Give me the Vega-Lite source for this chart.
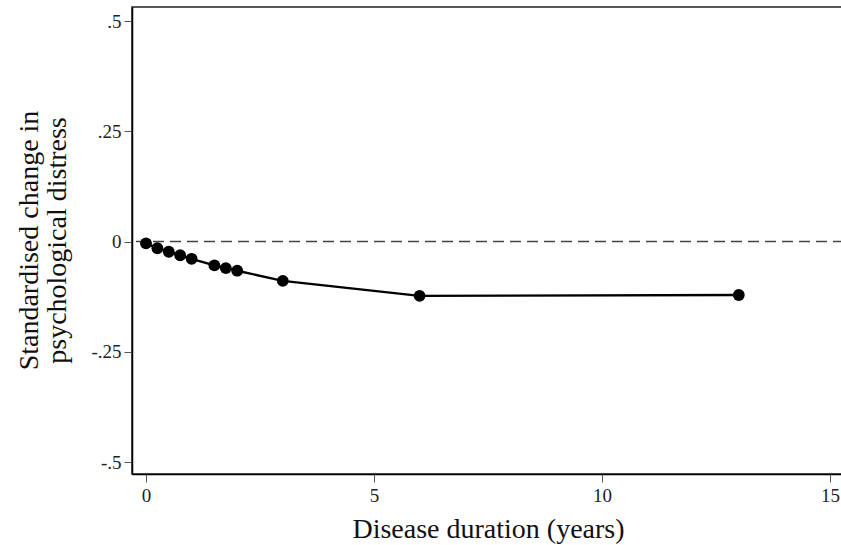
{
  "$schema": "https://vega.github.io/schema/vega-lite/v6.json",
  "width": 712,
  "height": 467,
  "autosize": "none",
  "padding": {"left": 132, "top": 7, "right": 0, "bottom": 71},
  "background": "white",
  "config": {
    "view": {"stroke": "#222", "strokeWidth": 1.5},
    "font": "Liberation Serif",
    "axis": {
      "grid": false,
      "domainColor": "#000",
      "domainWidth": 1.5,
      "tickColor": "#555",
      "tickSize": 8,
      "tickWidth": 1,
      "labelFont": "Liberation Serif",
      "labelFontSize": 19,
      "labelColor": "#222",
      "titleFont": "Liberation Serif",
      "titleFontSize": 28,
      "titleFontWeight": "normal",
      "titleColor": "#111"
    }
  },
  "datasets": {
    "pts": [
      {"years": 0, "change": -0.004},
      {"years": 0.25, "change": -0.015},
      {"years": 0.5, "change": -0.023},
      {"years": 0.75, "change": -0.031},
      {"years": 1, "change": -0.039},
      {"years": 1.5, "change": -0.054},
      {"years": 1.75, "change": -0.060},
      {"years": 2, "change": -0.066},
      {"years": 3, "change": -0.089},
      {"years": 6, "change": -0.123},
      {"years": 13, "change": -0.121}
    ],
    "ref": [{"y": 0}]
  },
  "layer": [
    {
      "data": {"name": "ref"},
      "mark": {"type": "rule", "color": "#444", "strokeWidth": 1.5, "strokeDash": [11, 6]},
      "encoding": {"y": {"field": "y", "type": "quantitative", "scale": {"domain": [-0.527, 0.532]}}}
    },
    {
      "data": {"name": "pts"},
      "mark": {"type": "line", "color": "#000", "strokeWidth": 2.4},
      "encoding": {
        "x": {"field": "years", "type": "quantitative"},
        "y": {"field": "change", "type": "quantitative"}
      }
    },
    {
      "data": {"name": "pts"},
      "mark": {"type": "point", "filled": true, "color": "#000", "opacity": 1, "size": 140},
      "encoding": {
        "x": {
          "field": "years", "type": "quantitative",
          "scale": {"domain": [-0.307, 15.307], "nice": false, "zero": false},
          "axis": {
            "values": [0, 5, 10, 15], "format": "d",
            "title": "Disease duration (years)",
            "labelPadding": 4,
            "titleX": 356, "titleY": 63, "titleBaseline": "alphabetic", "titleAlign": "center"
          }
        },
        "y": {
          "field": "change", "type": "quantitative",
          "scale": {"domain": [-0.527, 0.532], "nice": false, "zero": false},
          "axis": {
            "values": [-0.5, -0.25, 0, 0.25, 0.5],
            "labelExpr": "datum.value == 0.5 ? '.5' : datum.value == 0.25 ? '.25' : datum.value == 0 ? '0' : datum.value == -0.25 ? '-.25' : '-.5'",
            "labelPadding": 3,
            "title": ["Standardised change in", "psychological distress"],
            "titleX": -95, "titleY": 233, "titleAngle": -90,
            "titleBaseline": "alphabetic", "titleAlign": "center",
            "titleLineHeight": 28
          }
        }
      }
    }
  ]
}
